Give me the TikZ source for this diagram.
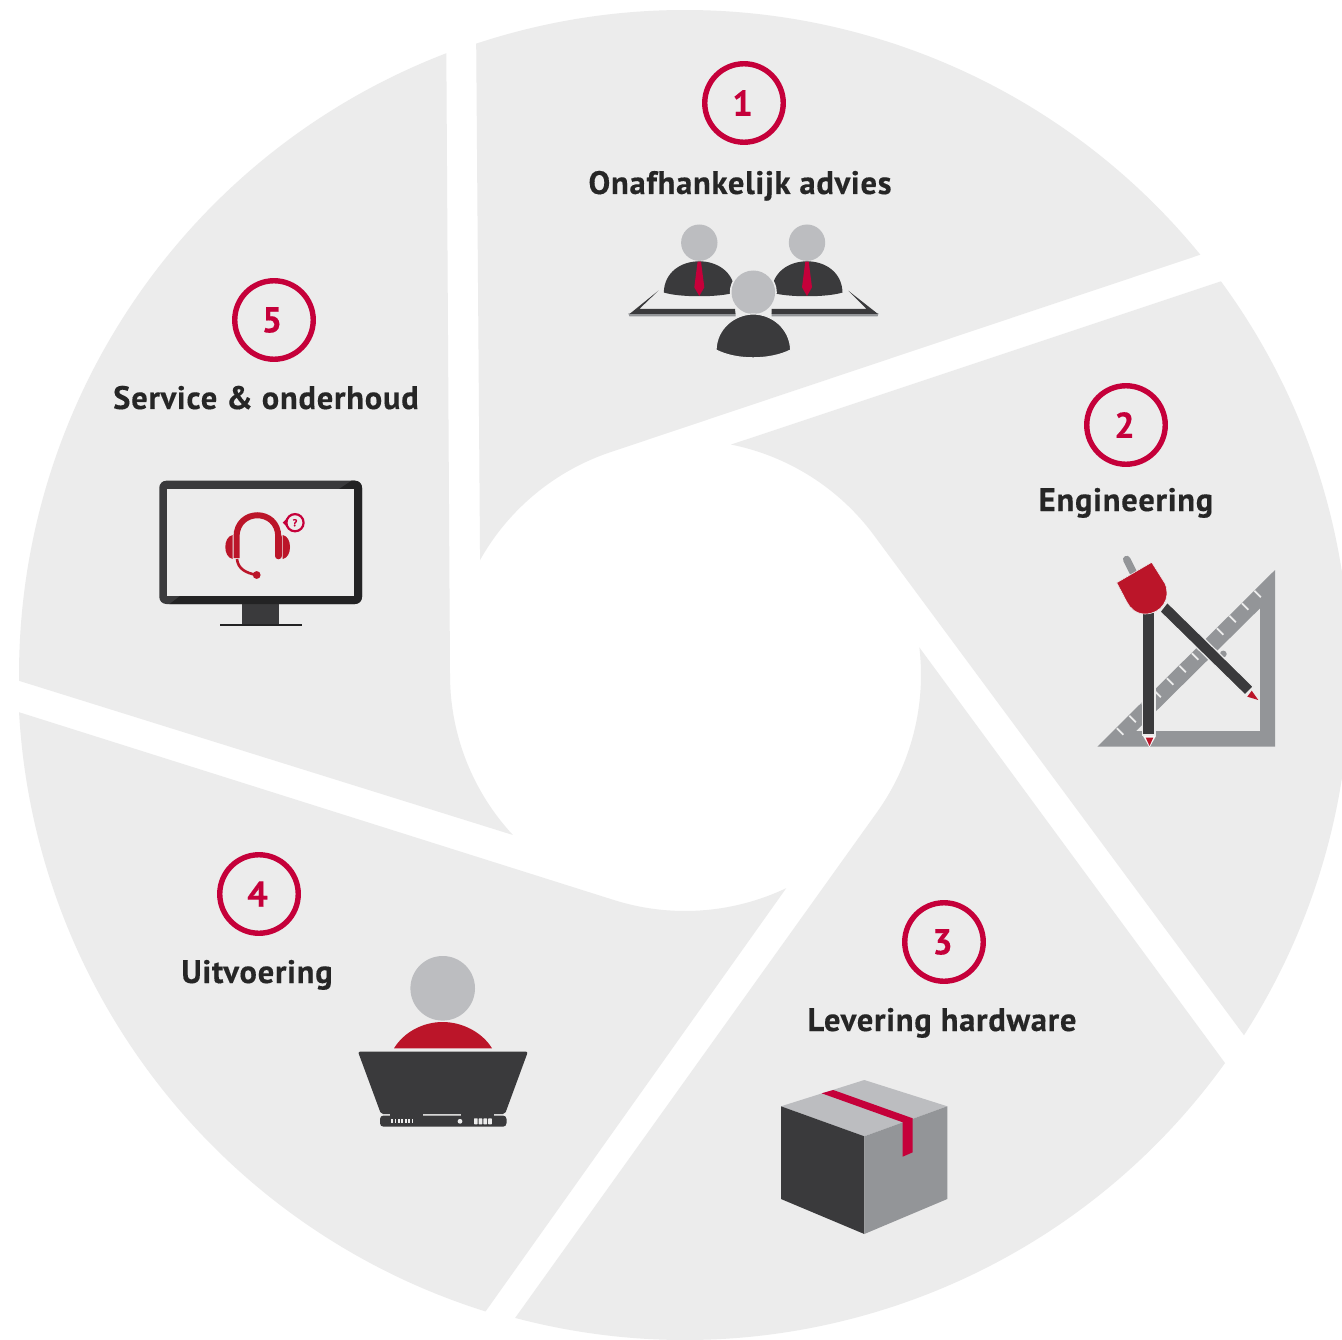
\documentclass[tikz,border=0pt]{standalone}
\usepackage{fontspec}
\setmainfont{PT Sans}[BoldFont={PT Sans Bold},LetterSpace=2.4,BoldFeatures={FakeBold=0.35}]
\definecolor{seg}{HTML}{ECECEC}
\definecolor{crim}{HTML}{C5003A}
\definecolor{tred}{HTML}{BB1529}
\definecolor{dark}{HTML}{3A3A3C}
\definecolor{darker}{HTML}{232324}
\definecolor{head}{HTML}{BCBDC0}
\definecolor{midg}{HTML}{939598}
\definecolor{txt}{HTML}{262626}
\tikzset{
  numring/.style={circle,draw=crim,line width=5.4pt,minimum size=78.5pt,inner sep=0pt,text=crim,font=\fontsize{36}{36}\selectfont\bfseries},
  lab/.style={text=txt,inner sep=0pt,anchor=base,font=\fontsize{32.5}{36}\selectfont\bfseries},
  halo/.style={draw=seg,line width=1.2pt},
}
\begin{document}
\begin{tikzpicture}[x=1pt,y=1pt,yscale=-1]
\useasboundingbox (0,0) rectangle (1342,1340);
\clip (0,0) rectangle (1342,1340);
\fill[white] (0,0) rectangle (1342,1340);
% segments: outer start, inner start, inner end, outer end, outer radius, inner radius
\foreach \a/\b/\c/\d/\R/\r in {
  -108.3/-150.7/-108.5/-39.2/665/235,
  -36.3/-78.7/-36.5/32.8/665/235,
  35.7/-6.7/35.5/104.8/665/236,
  107.4/64.6/107.5/176.8/667/236,
  179.5/137.1/179.5/249.0/666/235}{
  \begin{scope}[shift={(685,675)}]
    \fill[seg] (\a:\R) -- (\b:\r) arc[start angle=\b,end angle=\c,radius=\r pt]
      -- (\d:\R) arc[start angle=\d,end angle=\a,radius=\R pt] -- cycle;
  \end{scope}
}
% rings and labels
\node[numring] (n1) at (744,103) {\hspace*{-3pt}1};
\node[numring] (n2) at (1126,425) {\hspace*{-3pt}2};
\node[numring] (n3) at (944,942) {\hspace*{-3pt}3};
\node[numring] (n4) at (259,894) {\hspace*{-3pt}4};
\node[numring] (n5) at (274,320) {\hspace*{-4pt}5};
\node[lab] (l1) at (740,194) {Onafhankelijk advies};
\node[lab] (l2) at (1126,511) {Engineering};
\node[lab] (l3) at (942,1031) {Levering hardware};
\node[lab] (l4) at (257,983) {Uitvoering};
\node[lab] (l5) at (266,409) {Service \& onderhoud};
% icon 1: meeting
\fill[midg] (628.3,313.5) -- (735.5,313.5) -- (735.5,316.5) -- (629.5,316.5) -- cycle;
\fill[midg] (878.5,313.5) -- (771.7,313.5) -- (771.7,316.5) -- (877.5,316.5) -- cycle;
\fill[dark] (629.5,314) -- (658.3,290.7) -- (639.3,309) -- (735,309) -- (735.5,314) -- cycle;
\fill[dark] (878,314) -- (848.3,290.7) -- (866.7,309) -- (771.7,309) -- (771.7,314) -- cycle;
\foreach \cx in {699.3,807}{
  \fill[head] (\cx,242.7) circle[radius=18.2pt];
  \fill[dark] (\cx-35.5,292.5) .. controls (\cx-35,272) and (\cx-18,261.3) .. (\cx,261.3)
     .. controls (\cx+18,261.3) and (\cx+35,272) .. (\cx+35.5,292.5)
     .. controls (\cx+20,297.5) and (\cx-20,297.5) .. cycle;
  \fill[crim] (\cx-1.7,261.7) -- (\cx+1.7,261.7) -- (\cx+5,287.3) -- (\cx,296) -- (\cx-5,287.3) -- cycle;
}
\fill[seg] (753.3,292.3) circle[radius=23.5pt];
\fill[head] (753.3,292.3) circle[radius=21.8pt];
\draw[fill=dark,draw=seg,line width=1.2pt] (716,350) .. controls (716.5,328) and (735,314) .. (753.3,314)
   .. controls (771.6,314) and (790,328) .. (790.7,350)
   .. controls (770,360.5) and (736,360.5) .. cycle;
% icon 2: compass and set square
\fill[midg,even odd rule] (1097.3,746.7) -- (1275,570) -- (1275,746.7) -- cycle
   (1260,608.3) -- (1260,731) -- (1136,731) -- cycle;
\foreach \t in {0,...,11}{
  \draw[seg,line width=1.7pt] ({1254.3-12.5*\t},{590.7+12.5*\t}) -- ++(6.5,6.5);
}
\fill[midg] (1223.3,654) circle[radius=3.4pt];
\draw[midg,line width=7.5pt,line cap=round] (1126.7,559.5) -- (1133,572);
\draw[fill=dark,halo] (1167.3,602.3) -- (1160,611.7) -- (1245,695) -- (1253.3,686.7) -- cycle;
\fill[tred] (1251.7,690.7) -- (1258.3,700) -- (1247.3,696.7) -- cycle;
\draw[fill=dark,halo] (1142.3,612) rectangle (1155,735);
\fill[white!60!seg] (1143,736) -- (1156,736) -- (1149.5,747.5) -- cycle;
\fill[tred] (1145.7,737.5) -- (1153.3,737.5) -- (1149.5,746) -- cycle;
\draw[fill=tred,draw=seg,line width=.6pt] (1116.7,582.7) -- (1151.7,562.3) -- (1165,583.5)
   .. controls (1171.5,598.5) and (1161.5,614) .. (1145,614)
   .. controls (1136.5,614) and (1130,608.5) .. (1126.7,601.7) -- cycle;
% icon 3: parcel
\fill[head] (781,1106.3) -- (864.3,1080) -- (947.3,1106.3) -- (864.3,1136.3) -- cycle;
\fill[dark] (781,1106.3) -- (864.3,1136.3) -- (864.3,1234) -- (781,1199) -- cycle;
\fill[midg] (947.3,1106.3) -- (947.3,1199) -- (864.3,1234) -- (864.3,1136.3) -- cycle;
\fill[crim] (821.7,1093.3) -- (833.3,1090) -- (912.7,1118.3) -- (912.7,1152.3) -- (902.7,1156.7) -- (902.7,1122.3) -- cycle;
% icon 4: person at laptop
\fill[head] (442.7,988.3) circle[radius=32.3pt];
\fill[tred] (394,1048.3) .. controls (404,1032) and (423,1022) .. (442.7,1022)
   .. controls (462,1022) and (482,1032) .. (492,1048.3) -- cycle;
\fill[dark,rounded corners=2pt] (358,1051.7) -- (527.9,1051.7) -- (505,1114) -- (381,1114) -- cycle;
\fill[dark,rounded corners=3.5pt] (380,1115.5) rectangle (506.5,1126.7);
\fill[dark] (390,1112) rectangle (423.3,1117);
\fill[dark] (460.7,1112) rectangle (494,1117);
\foreach \i in {0,...,6}{
  \fill[seg] ({391.2+3.4*\i},1119) rectangle ++(1.8,4.4);
}
\fill[seg] (460,1121.3) circle[radius=2.4pt];
\foreach \i in {0,...,3}{
  \fill[seg,rounded corners=.6pt] ({474+4.7*\i},1118.3) rectangle ++(3.7,6);
}
% icon 5: monitor with headset
\fill[dark] (242,602) rectangle (279,624);
\fill[darker] (220,624) rectangle (302,626.3);
\fill[dark,rounded corners=7pt] (159.3,480.7) rectangle (362,604);
\begin{scope}
  \clip[rounded corners=7pt] (159.3,480.7) rectangle (362,604);
  \fill[darker] (339,489) -- (354,479) -- (364,479) -- (364,606) -- (167,606) -- (180,596) -- cycle;
\end{scope}
\fill[seg] (167,489) rectangle (354,596);
\draw[tred,line width=6pt] (236.5,558) -- (236.5,537) .. controls (236.5,508) and (278.3,508) .. (278.3,537);
\draw[tred,line width=6.6pt,line cap=round] (278.3,537) -- (278.3,556);
\fill[tred] (232.6,535) .. controls (228,536) and (225.3,541) .. (225.3,547) .. controls (225.3,553) and (228,558) .. (232.6,559) -- cycle;
\fill[tred] (282.7,535) .. controls (287.5,536) and (290,541) .. (290,547) .. controls (290,553) and (287.5,558) .. (282.7,559) -- cycle;
\draw[tred,line width=2.6pt] (237,559) .. controls (238,569) and (246,573) .. (256.7,575);
\fill[tred] (256.7,575) circle[radius=3.9pt];
\fill[crim] (282.7,522.7) -- (288,517.5) -- (288,528) -- cycle;
\draw[crim,fill=seg,line width=2.2pt] (295,522.7) circle[radius=8.6pt];
\node[inner sep=0pt,text=crim,font=\fontsize{10}{10}\selectfont\bfseries] (q) at (295,522.7) {?};
\end{tikzpicture}
\end{document}
